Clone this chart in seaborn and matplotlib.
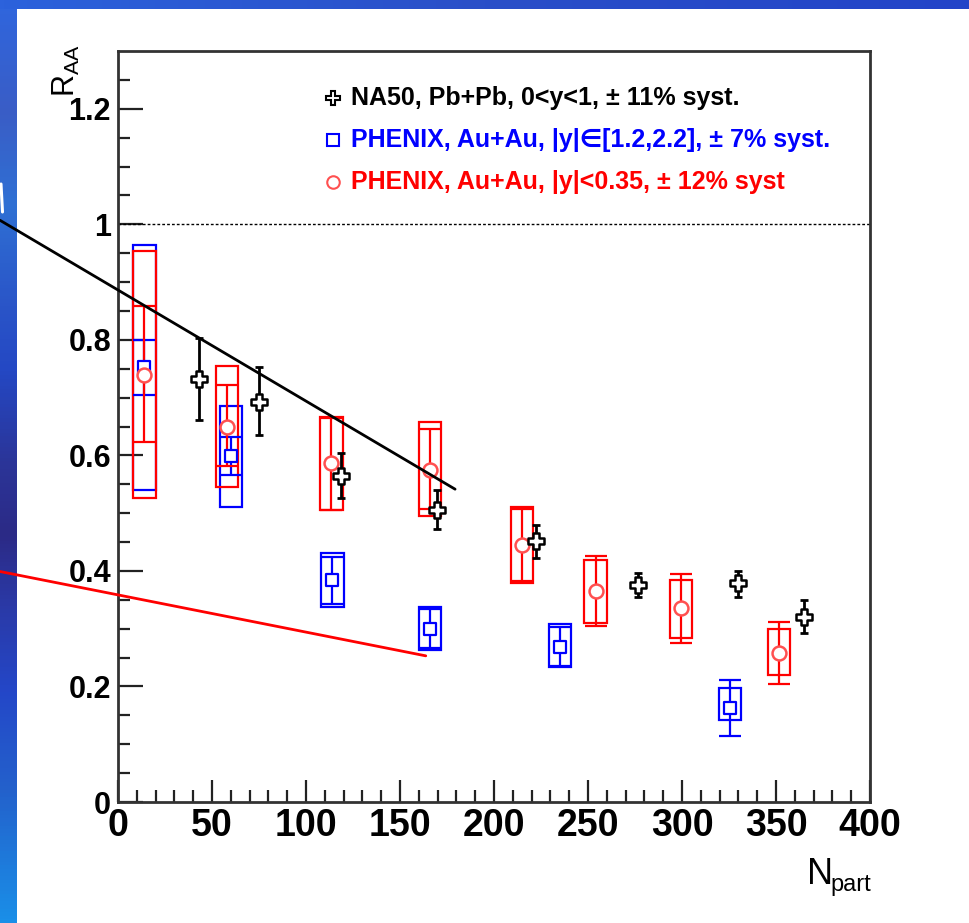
import numpy as np
import pandas as pd
import matplotlib
matplotlib.use("Agg")
import matplotlib.pyplot as plt
import seaborn as sns
from matplotlib.patches import Rectangle
from matplotlib.lines import Line2D
from matplotlib.colors import LinearSegmentedColormap

# ---------------- data ----------------
na50_npart = [43, 75, 118.5, 169.5, 222.5, 276.5, 330, 365]
na50_raa = [0.732, 0.693, 0.564, 0.506, 0.452, 0.375, 0.379, 0.321]
na50_lo = [0.661, 0.636, 0.527, 0.473, 0.422, 0.355, 0.355, 0.292]
na50_hi = [0.803, 0.753, 0.604, 0.540, 0.479, 0.397, 0.400, 0.349]

fwd_npart = [14, 60, 114, 166, 235, 325.5]
fwd_raa = [0.753, 0.599, 0.385, 0.300, 0.269, 0.163]
fwd_stat_lo = [0.704, 0.566, 0.343, 0.266, 0.235, 0.114]
fwd_stat_hi = [0.800, 0.632, 0.424, 0.334, 0.303, 0.212]
fwd_syst_lo = [0.540, 0.511, 0.338, 0.263, 0.233, 0.142]
fwd_syst_hi = [0.965, 0.686, 0.431, 0.337, 0.308, 0.197]

mid_npart = [14, 58, 113.5, 166, 215, 254, 299.5, 351.5]
mid_raa = [0.739, 0.650, 0.586, 0.575, 0.445, 0.365, 0.335, 0.258]
mid_stat_lo = [0.623, 0.581, 0.505, 0.508, 0.383, 0.304, 0.276, 0.205]
mid_stat_hi = [0.858, 0.721, 0.664, 0.645, 0.508, 0.426, 0.394, 0.311]
mid_syst_lo = [0.526, 0.546, 0.505, 0.495, 0.379, 0.310, 0.284, 0.219]
mid_syst_hi = [0.953, 0.755, 0.667, 0.657, 0.511, 0.419, 0.384, 0.299]

black_line_x = [-62.8, 179.3]
black_line_y = [1.007, 0.5415]
red_line_x = [-62.8, 163.7]
red_line_y = [0.399, 0.253]

x_ticks = [0, 50, 100, 150, 200, 250, 300, 350, 400]
y_ticks = [0, 0.2, 0.4, 0.6, 0.8, 1.0, 1.2]
y_tick_labels = ["0", "0.2", "0.4", "0.6", "0.8", "1", "1.2"]

legend_labels = [
    "NA50, Pb+Pb, 0<y<1, \u00b1 11% syst.",
    "PHENIX, Au+Au, |y|\u2208[1.2,2.2], \u00b1 7% syst.",
    "PHENIX, Au+Au, |y|<0.35, \u00b1 12% syst",
]

# ---------------- style ----------------
sns.set_theme(style="white")
plt.rcParams["font.family"] = ["Liberation Sans", "DejaVu Sans"]
plt.rcParams["mathtext.fontset"] = "custom"
plt.rcParams["mathtext.rm"] = "Liberation Sans"
plt.rcParams["mathtext.it"] = "Liberation Sans:italic"
plt.rcParams["mathtext.bf"] = "Liberation Sans:bold"

W, H = 970, 923
fig = plt.figure(figsize=(W / 100, H / 100), dpi=100)
fig.patch.set_facecolor("white")


def fx(px):
    return px / W


def fy(py):
    return 1 - py / H


# background blue strips
stops = [(0.0, "#2f66de"), (0.12, "#3a5dc6"), (0.22, "#2f70d4"), (0.33, "#2a55c8"),
         (0.40, "#2448c4"), (0.50, "#2b3599"), (0.58, "#2c2a86"), (0.66, "#2a3aa8"),
         (0.75, "#2447c8"), (0.86, "#2362cc"), (1.0, "#1a8fe8")]
cmap_left = LinearSegmentedColormap.from_list("left", stops)
sax = fig.add_axes([0, 0, fx(17), 1])
sax.imshow(np.linspace(0, 1, 256)[:, None], aspect="auto", cmap=cmap_left)
sax.axis("off")
sax.set_zorder(-2)
cmap_top = LinearSegmentedColormap.from_list("top", ["#2c62dc", "#2a4fc8", "#2244c8"])
tax = fig.add_axes([0, fy(9), 1, 9 / H])
tax.imshow(np.linspace(0, 1, 256)[None, :], aspect="auto", cmap=cmap_top)
tax.axis("off")
tax.set_zorder(-2)
fig.add_artist(Line2D([fx(1), fx(2.5)], [fy(184), fy(212)], color="white", lw=2.2))

# main axes
ax = fig.add_axes([fx(118), fy(802), (870 - 118) / W, (802 - 51) / H])
ax.set_facecolor("white")
ax.set_zorder(1)
ax.set_xlim(0, 400)
ax.set_ylim(0, 1.3)

# dotted reference line
ax.axhline(1.0, color="black", lw=1.0, ls=(0, (2, 1.5)), zorder=2)

RED = "#ff0000"
BLUE = "#0000ff"
half_w = 6.0

# systematic boxes
for x, lo, hi in zip(fwd_npart, fwd_syst_lo, fwd_syst_hi):
    ax.add_patch(Rectangle((x - half_w, lo), 2 * half_w, hi - lo, fill=False,
                           ec=BLUE, lw=1.6, zorder=3))
for x, lo, hi in zip(mid_npart, mid_syst_lo, mid_syst_hi):
    ax.add_patch(Rectangle((x - half_w, lo), 2 * half_w, hi - lo, fill=False,
                           ec=RED, lw=1.6, zorder=3))

# statistical error bars
fr = np.array(fwd_raa)
ax.errorbar(fwd_npart, fr, yerr=[fr - np.array(fwd_stat_lo), np.array(fwd_stat_hi) - fr],
            fmt="none", ecolor=BLUE, elinewidth=1.6, capsize=8.0, capthick=1.6, zorder=3)
mr = np.array(mid_raa)
ax.errorbar(mid_npart, mr, yerr=[mr - np.array(mid_stat_lo), np.array(mid_stat_hi) - mr],
            fmt="none", ecolor=RED, elinewidth=1.6, capsize=8.0, capthick=1.6, zorder=3)
nr = np.array(na50_raa)
ax.errorbar(na50_npart, nr, yerr=[nr - np.array(na50_lo), np.array(na50_hi) - nr],
            fmt="none", ecolor="black", elinewidth=2.0, capsize=3.0, capthick=2.0, zorder=4)

# markers through seaborn
df_fwd = pd.DataFrame({"Npart": fwd_npart, "RAA": fwd_raa})
df_mid = pd.DataFrame({"Npart": mid_npart, "RAA": mid_raa})
df_na50 = pd.DataFrame({"Npart": na50_npart, "RAA": na50_raa})
sns.scatterplot(data=df_fwd, x="Npart", y="RAA", marker="s", s=85, color="white",
                edgecolor=BLUE, linewidth=1.6, ax=ax, zorder=5, legend=False)
sns.scatterplot(data=df_mid, x="Npart", y="RAA", marker="o", s=100, color="white",
                edgecolor="#ff5050", linewidth=1.8, ax=ax, zorder=5, legend=False)
sns.scatterplot(data=df_na50, x="Npart", y="RAA", marker="P", s=140, color="white",
                edgecolor="black", linewidth=1.8, ax=ax, zorder=6, legend=False)

# slanted lines (extend outside axes)
ax.plot(black_line_x, black_line_y, color="black", lw=2.0, clip_on=False, zorder=7)
ax.plot(red_line_x, red_line_y, color=RED, lw=2.0, clip_on=False, zorder=7)

# axes styling
for s in ax.spines.values():
    s.set_linewidth(2.0)
    s.set_color("#333333")
    s.set_visible(True)
ax.set_xticks(x_ticks)
ax.set_xticks(np.arange(0, 401, 10), minor=True)
ax.set_yticks(y_ticks)
ax.set_yticks(np.arange(0, 1.3, 0.05), minor=True)
ax.set_yticklabels(y_tick_labels)
ax.set_xticklabels([str(t) for t in x_ticks])
ax.tick_params(which="both", direction="in", left=True, bottom=True, top=False,
               right=False, width=1.6, color="#222222")
ax.tick_params(axis="y", which="major", length=18, pad=5)
ax.tick_params(axis="x", which="major", length=16, pad=4)
ax.tick_params(which="minor", length=8.6)
for lab in ax.get_yticklabels():
    lab.set_fontsize(22)
    lab.set_fontweight("bold")
    lab.set_color("black")
for lab in ax.get_xticklabels():
    lab.set_family(["Liberation Sans Narrow", "Liberation Sans", "DejaVu Sans"])
    lab.set_fontsize(27)
    lab.set_fontweight("bold")
    lab.set_color("black")
ax.set_xlabel("")
ax.set_ylabel("")

# axis titles
fig.text(fx(66), fy(97), r"$\mathrm{R_{AA}}$", rotation=90, ha="center", va="bottom",
         fontsize=22, color="black")
fig.text(fx(807), fy(884), "N", ha="left", va="baseline", fontsize=26,
         family=["Liberation Sans Narrow", "Liberation Sans"], color="black")
fig.text(fx(830), fy(891), "part", ha="left", va="baseline", fontsize=17,
         family=["Liberation Sans Narrow", "Liberation Sans"], color="black")

# legend
leg_y = [98, 140, 182]
leg_colors = ["black", BLUE, RED]
leg_edge = ["black", BLUE, "#ff5050"]
leg_markers = ["P", "s", "o"]
leg_ms = [10, 9, 9]
for yy, col, ec, mk, ms, txt in zip(leg_y, leg_colors, leg_edge, leg_markers, leg_ms, legend_labels):
    fig.add_artist(Line2D([fx(333)], [fy(yy)], marker=mk, markersize=ms,
                          markerfacecolor="white", markeredgecolor=ec,
                          markeredgewidth=1.5, ls="none"))
    fig.text(fx(351), fy(yy), txt, ha="left", va="center", fontsize=18,
             fontweight="bold", color=col)

fig.savefig("out.png", dpi=100)
